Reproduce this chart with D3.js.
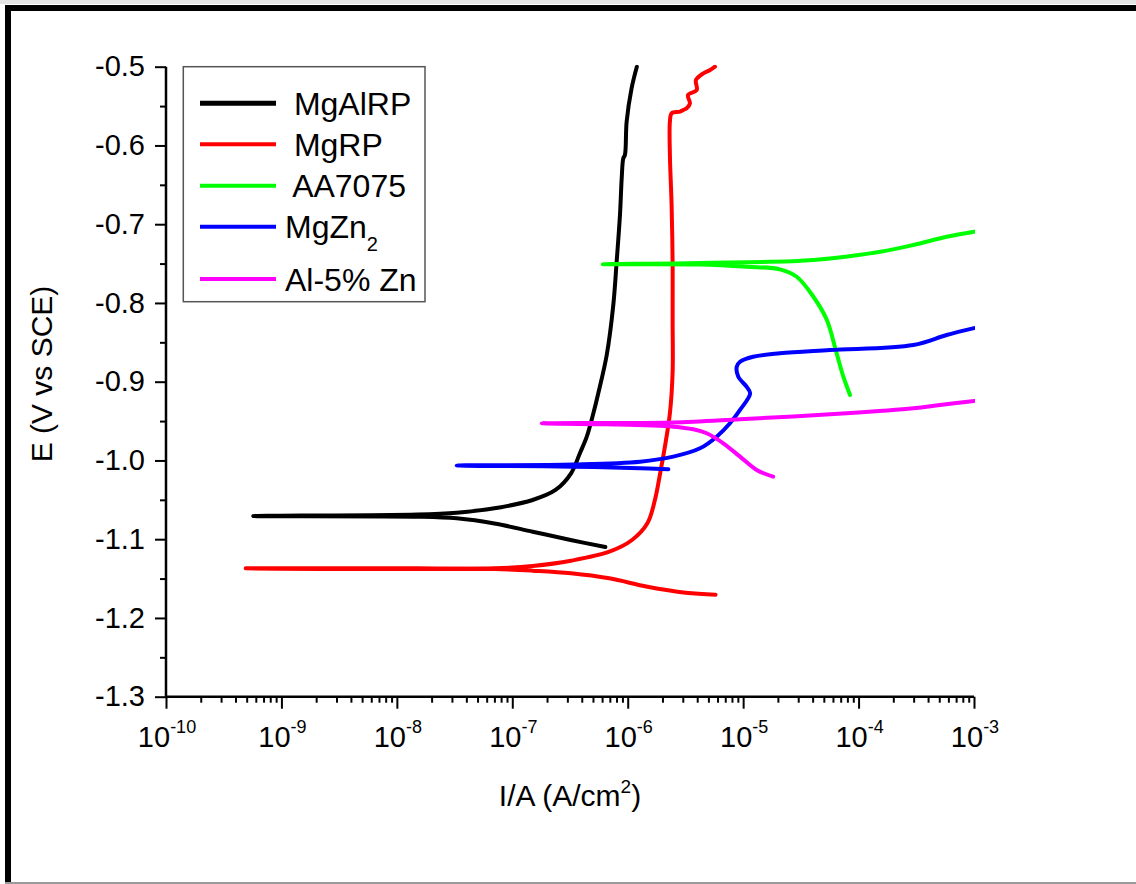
<!DOCTYPE html>
<html>
<head>
<meta charset="utf-8">
<script src="https://cdn.jsdelivr.net/npm/d3@7"></script>
<style>
  html, body { margin: 0; padding: 0; background: #fff; }
  svg { display: block; font-family: "Liberation Sans", Arial, sans-serif; }
</style>
</head>
<body>
<svg id="chart" width="1136" height="884"></svg>
<script>
// ---- Potentiodynamic polarization data: current density (A/cm²) and potential (V vs SCE)
// Each trace runs from the cathodic end, through Ecorr, out along the anodic branch.

const seriesNames = [" MgAlRP", " MgRP", " AA7075", "MgZn", "Al-5% Zn"];
const seriesColors = ["#000000", "#ff0000", "#00ff00", "#0000ff", "#ff00ff"];

const mgAlRP_I = [6.4e-7, 3.2e-7, 1.5e-7, 7.0e-8, 3.3e-8, 1.5e-8, 5.7e-10,
  1.5e-8, 3.3e-8, 7.0e-8, 1.5e-7, 2.37e-7, 3.23e-7, 3.86e-7, 4.42e-7, 5.04e-7, 5.56e-7,
  6.58e-7, 7.5e-7, 8.02e-7, 8.57e-7, 8.87e-7, 9.16e-7, 9.46e-7, 9.79e-7, 1.08e-6, 1.2e-6];
const mgAlRP_E = [-1.110, -1.101, -1.0905, -1.080, -1.0735, -1.0714, -1.0706,
  -1.0686, -1.0663, -1.0608, -1.0502, -1.0375, -1.0163, -0.9905, -0.9698, -0.9401, -0.9147,
  -0.8661, -0.8026, -0.7476, -0.6883, -0.6417, -0.6163, -0.6121, -0.5698, -0.5274, -0.500];

const mgRP_I = [5.77e-6, 3.18e-6, 1.48e-6, 6.92e-7, 3.23e-7, 1.5e-7, 7.0e-8, 1.52e-8, 4.9e-10,
  7.0e-8, 1.5e-7, 3.23e-7, 6.92e-7, 1.09e-6, 1.48e-6, 1.72e-6, 1.91e-6, 2.10e-6, 2.32e-6,
  2.45e-6, 2.45e-6, 2.45e-6, 2.40e-6, 2.32e-6, 2.32e-6, 2.40e-6,
  2.84e-6, 3.03e-6, 3.24e-6, 3.46e-6, 3.33e-6, 3.96e-6, 3.90e-6, 4.52e-6, 5.17e-6, 5.70e-6];
const mgRP_E = [-1.1705, -1.1679, -1.1603, -1.1497, -1.1433, -1.140, -1.1378, -1.137, -1.137,
  -1.137, -1.134, -1.1273, -1.1159, -1.101, -1.0798, -1.0502, -1.0163, -0.9825, -0.9401,
  -0.8873, -0.8238, -0.7518, -0.6756, -0.6121, -0.5698, -0.5592,
  -0.5571, -0.555, -0.5528, -0.5465, -0.536, -0.5296, -0.5169, -0.5084, -0.5042, -0.500];

const aa7075_I = [8.43e-5, 7.38e-5, 6.46e-5, 5.30e-5, 4.06e-5, 2.91e-5, 2.08e-5, 1.07e-5, 4.2e-6, 6.07e-7,
  4.2e-6, 4.06e-5, 1.54e-4, 2.98e-4, 5.79e-4, 1.0e-3];
const aa7075_E = [-0.9169, -0.8937, -0.864, -0.8213, -0.7921, -0.7667, -0.7573, -0.754, -0.7512, -0.7509,
  -0.7493, -0.7455, -0.7349, -0.7264, -0.7159, -0.7095];

const mgZn2_I = [2.25e-6, 1.28e-6, 3.38e-7, 7.8e-8, 3.3e-8,
  3.38e-7, 1.28e-6, 2.48e-6, 4.23e-6, 5.9e-6, 7.69e-6, 9.4e-6, 1.15e-5, 1.07e-5, 9.08e-6,
  8.8e-6, 9.4e-6, 1.22e-5, 2.08e-5, 5.65e-5, 2.98e-4, 5.79e-4, 1.0e-3];
const mgZn2_E = [-1.0112, -1.010, -1.0079, -1.0071, -1.0064,
  -1.0051, -1.0016, -0.9952, -0.9846, -0.9698, -0.9528, -0.9359, -0.9147, -0.9063, -0.8937,
  -0.881, -0.8746, -0.8683, -0.864, -0.8598, -0.8534, -0.8407, -0.832];

const al5Zn_I = [1.82e-5, 1.31e-5, 9.4e-6, 6.73e-6, 4.83e-6, 3.70e-6, 2.48e-6, 6.58e-7, 1.80e-7,
  6.58e-7, 2.48e-6, 9.4e-6, 7.89e-5, 2.98e-4, 5.07e-4, 1.0e-3];
const al5Zn_E = [-1.0206, -1.0121, -0.9952, -0.9782, -0.9655, -0.9604, -0.9571, -0.9541, -0.9528,
  -0.9524, -0.9518, -0.9477, -0.9401, -0.9338, -0.9296, -0.9244];

// Axis ticks
const yTicks = [-1.3, -1.2, -1.1, -1.0, -0.9, -0.8, -0.7, -0.6, -0.5];
const yMinorTicks = [-1.25, -1.15, -1.05, -0.95, -0.85, -0.75, -0.65, -0.55];
const xExponents = [-10, -9, -8, -7, -6, -5, -4, -3];

// ---- Layout
const W = 1136, H = 884;
const svg = d3.select("#chart");

// Outer figure frame
svg.append("rect").attr("x", 0).attr("y", 0).attr("width", W).attr("height", 4).attr("fill", "#e4e4e4");
svg.append("rect").attr("x", 5).attr("y", 5).attr("width", W - 5).attr("height", 6).attr("fill", "#000");
svg.append("rect").attr("x", 5).attr("y", 5).attr("width", 6).attr("height", 878).attr("fill", "#000");
svg.append("rect").attr("x", 5).attr("y", 882).attr("width", W - 5).attr("height", 2).attr("fill", "#9a9a9a");

const x = d3.scaleLog().domain([1e-10, 1e-3]).range([166, 974]);
const y = d3.scaleLinear().domain([-1.3, -0.5]).range([696.7, 66.7]);

const tickFont = 29;

// Y axis (major + minor)
const yAxisG = svg.append("g").attr("transform", `translate(${x.range()[0]},0)`);
yAxisG.call(d3.axisLeft(y).tickValues(yTicks).tickSize(11).tickPadding(10)
  .tickFormat(d => d.toFixed(1)));
yAxisG.append("g").call(d3.axisLeft(y).tickValues(yMinorTicks).tickSize(6).tickFormat(""));
yAxisG.selectAll(".domain").remove();
yAxisG.selectAll("line").attr("stroke", "#000").attr("stroke-width", 2);
yAxisG.selectAll("text").attr("font-size", tickFont).attr("fill", "#000")
  .attr("font-family", "Liberation Sans, Arial, sans-serif");

// X axis (log decades + minor ticks)
const xMajor = xExponents.map(e => Math.pow(10, e));
const xMinor = [];
xExponents.slice(0, -1).forEach(e => {
  for (let k = 2; k <= 9; k++) xMinor.push(k * Math.pow(10, e));
});
const xAxisG = svg.append("g").attr("transform", `translate(0,${y.range()[0]})`);
xAxisG.call(d3.axisBottom(x).tickValues(xMajor).tickSize(12).tickFormat(""));
xAxisG.append("g").call(d3.axisBottom(x).tickValues(xMinor).tickSize(6).tickFormat(""));
xAxisG.selectAll(".domain").remove();
xAxisG.selectAll("line").attr("stroke", "#000").attr("stroke-width", 2);
xAxisG.selectAll(".tick text").remove();

const xLabels = svg.append("g").attr("font-size", tickFont).attr("fill", "#000");
xExponents.forEach(e => {
  const t = xLabels.append("text")
    .attr("x", x(Math.pow(10, e)) + 1)
    .attr("y", y.range()[0] + 50)
    .attr("text-anchor", "middle");
  t.append("tspan").text("10");
  t.append("tspan").attr("font-size", 18).attr("dy", -14).text(String(e));
});

// Axis lines
svg.append("line").attr("x1", 166).attr("x2", 166).attr("y1", 66.7).attr("y2", 696.7)
  .attr("stroke", "#000").attr("stroke-width", 2.5);
svg.append("line").attr("x1", 166).attr("x2", 974).attr("y1", 696.7).attr("y2", 696.7)
  .attr("stroke", "#000").attr("stroke-width", 2.5);

// Axis titles
const xTitle = svg.append("text").attr("x", 570).attr("y", 806)
  .attr("text-anchor", "middle").attr("font-size", 30).attr("fill", "#000");
xTitle.append("tspan").text("I/A (A/cm");
xTitle.append("tspan").attr("font-size", 19).attr("dy", -13).text("2");
xTitle.append("tspan").attr("dy", 13).text(")");

svg.append("text").attr("transform", "translate(52,374) rotate(-90)")
  .attr("text-anchor", "middle").attr("font-size", 30).attr("fill", "#000")
  .text("E (V vs SCE)");

// ---- Curves
const traces = [
  { I: mgAlRP_I, E: mgAlRP_E },
  { I: mgRP_I, E: mgRP_E },
  { I: aa7075_I, E: aa7075_E },
  { I: mgZn2_I, E: mgZn2_E },
  { I: al5Zn_I, E: al5Zn_E }
];

svg.append("clipPath").attr("id", "plotClip").append("rect")
  .attr("x", 166).attr("y", 64.7).attr("width", 975 - 166).attr("height", 696.7 - 64.7);

const line = d3.line()
  .x(d => x(d[0]))
  .y(d => y(d[1]))
  .curve(d3.curveCatmullRom.alpha(0.5));

const curves = svg.append("g").attr("clip-path", "url(#plotClip)");
traces.forEach((tr, i) => {
  const pts = tr.I.map((v, j) => [v, tr.E[j]]);
  curves.append("path")
    .attr("d", line(pts))
    .attr("fill", "none")
    .attr("stroke", seriesColors[i])
    .attr("stroke-width", 4)
    .attr("stroke-linejoin", "round")
    .attr("stroke-linecap", "round");
});

// ---- Legend
const legend = svg.append("g");
legend.append("rect").attr("x", 183.3).attr("y", 66.7).attr("width", 241.7).attr("height", 235)
  .attr("fill", "#fff").attr("stroke", "#555").attr("stroke-width", 1.5);
const rowY = [103.3, 144.3, 185.7, 226.7, 279];
seriesNames.forEach((name, i) => {
  legend.append("line").attr("x1", 200).attr("x2", 276).attr("y1", rowY[i]).attr("y2", rowY[i])
    .attr("stroke", seriesColors[i]).attr("stroke-width", i === 0 ? 5 : 4);
  const t = legend.append("text").attr("x", 285).attr("y", rowY[i] + 11.5)
    .attr("font-size", 32).attr("fill", "#000").style("white-space", "pre");
  t.append("tspan").text(name);
  if (name === "MgZn") {
    t.append("tspan").attr("font-size", 20).attr("dy", 13).text("2");
  }
});
</script>
</body>
</html>
